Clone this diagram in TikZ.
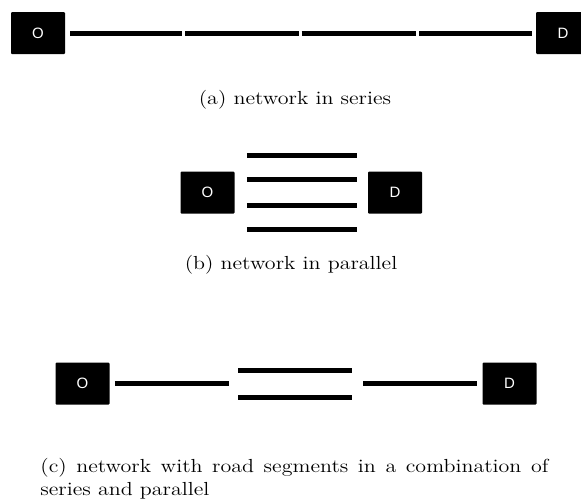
\documentclass[tikz,border=0pt]{standalone}
\usepackage{fontspec}
\usepackage{graphicx}
\newfontfamily\odfont{Liberation Sans}
\usetikzlibrary{positioning}

\tikzset{
  odbox/.style={fill=black, text=white, rounded corners=0.5pt, minimum width=27pt, minimum height=21pt, inner sep=0pt, font=\odfont\fontsize{7.5}{9}\selectfont},
  road/.style={line width=2.5pt},
  captext/.style={inner sep=0pt, font=\fontsize{11}{13.2}\selectfont}
}
\newcommand{\squash}[1]{\scalebox{1}[0.86]{#1}}

\begin{document}
\begin{tikzpicture}[x=0.5pt,y=0.5pt,yscale=-1,xscale=1]
\useasboundingbox (0,0) rectangle (581,500);
\clip (0,0) rectangle (581,500);

%% (a) series
% O and D
\node [odbox] (o1) at (38,33) {O};
\node [odbox] (d1) at (563,33) {D};
% junctions
\coordinate (j1) at (183.5,33);
\coordinate (j2) at (300,33);
\coordinate (j3) at (417.5,33);
% Road segments
\draw [road, shorten <=2.5pt, shorten >=0.75pt] (o1) -- (j1);
\draw [road, shorten <=0.75pt, shorten >=0.75pt] (j1) -- (j2);
\draw [road, shorten <=0.75pt, shorten >=0.75pt] (j2) -- (j3);
\draw [road, shorten <=0.75pt, shorten >=2pt] (j3) -- (d1);
% Caption
\node [captext] (capa) at (295,100) {\squash{(a) network in series}};

%% (b) parallel
% O and D
\node [odbox] (o2) at (207.5,192.5) {O};
\node [odbox] (d2) at (395,192.5) {D};
% Road segments
\draw [road, shorten <=6pt, shorten >=5.5pt] ([yshift=18.25pt]o2.east) -- ([yshift=18.25pt]d2.west);
\draw [road, shorten <=6pt, shorten >=5.5pt] ([yshift=6.25pt]o2.east) -- ([yshift=6.25pt]d2.west);
\draw [road, shorten <=6pt, shorten >=5.5pt] ([yshift=-6.75pt]o2.east) -- ([yshift=-6.75pt]d2.west);
\draw [road, shorten <=6pt, shorten >=5.5pt] ([yshift=-18.75pt]o2.east) -- ([yshift=-18.75pt]d2.west);
% Caption
\node [captext] (capb) at (291,265) {\squash{(b) network in parallel}};

%% (c) series and parallel
% O and D
\node [odbox] (o3) at (82.5,383.5) {O};
\node [odbox] (d3) at (509.5,383.5) {D};
% junctions
\coordinate (k1) at (233.5,383.5);
\coordinate (k2) at (357.5,383.5);
% Road segments
\draw [road, shorten <=2.5pt, shorten >=2.25pt] (o3) -- (k1);
\draw [road, shorten <=2.25pt, shorten >=2.75pt] ([yshift=6.75pt]k1) -- ([yshift=6.75pt]k2);
\draw [road, shorten <=2.25pt, shorten >=2.75pt] ([yshift=-6.75pt]k1) -- ([yshift=-6.75pt]k2);
\draw [road, shorten <=2.75pt, shorten >=2.5pt] (k2) -- (d3);
% Caption
\node [inner sep=0pt, anchor=north west] (capc) at (40,458) {\squash{\parbox{254pt}{\fontsize{11}{13.2}\selectfont (c) network with road segments in a combination of series and parallel}}};

\end{tikzpicture}
\end{document}
